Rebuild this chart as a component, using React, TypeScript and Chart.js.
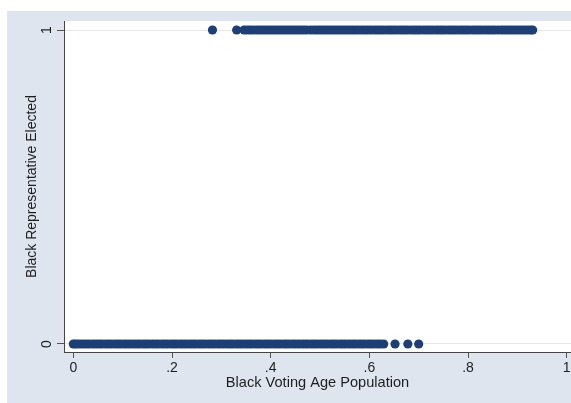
import React, { useEffect, useRef } from "react";
import { Chart, registerables } from "chart.js";

Chart.register(...registerables);

// Black voting age population share of districts where no Black representative was elected (y = 0)
const notElectedBVAP: number[] = [
  0, 0.004, 0.009, 0.015, 0.021, 0.027, 0.033, 0.04, 0.046, 0.052, 0.058, 0.065, 0.071, 0.077,
  0.084, 0.09, 0.096, 0.103, 0.109, 0.115, 0.122, 0.128, 0.134, 0.141, 0.147, 0.153, 0.16,
  0.166, 0.172, 0.179, 0.185, 0.191, 0.198, 0.204, 0.21, 0.217, 0.223, 0.229, 0.236, 0.242,
  0.248, 0.255, 0.261, 0.267, 0.274, 0.28, 0.286, 0.293, 0.299, 0.305, 0.312, 0.318, 0.324,
  0.331, 0.337, 0.343, 0.35, 0.356, 0.362, 0.369, 0.375, 0.381, 0.388, 0.394, 0.4, 0.407,
  0.413, 0.419, 0.426, 0.432, 0.438, 0.445, 0.451, 0.457, 0.464, 0.47, 0.476, 0.483, 0.489,
  0.495, 0.502, 0.508, 0.514, 0.521, 0.527, 0.533, 0.54, 0.546, 0.552, 0.559, 0.565, 0.571,
  0.578, 0.584, 0.59, 0.597, 0.603, 0.609, 0.616, 0.622, 0.629, 0.652, 0.678, 0.7,
];

// Black voting age population share of districts where a Black representative was elected (y = 1)
const electedBVAP: number[] = [
  0.282, 0.331, 0.346, 0.352, 0.358, 0.364, 0.371, 0.377, 0.383, 0.389, 0.395, 0.401, 0.407,
  0.413, 0.419, 0.425, 0.431, 0.437, 0.443, 0.449, 0.455, 0.461, 0.467, 0.473, 0.481, 0.488,
  0.494, 0.5, 0.506, 0.512, 0.518, 0.524, 0.53, 0.536, 0.542, 0.548, 0.554, 0.56, 0.566,
  0.572, 0.578, 0.585, 0.591, 0.597, 0.603, 0.61, 0.616, 0.622, 0.628, 0.635, 0.641, 0.647,
  0.653, 0.66, 0.666, 0.672, 0.678, 0.685, 0.691, 0.697, 0.703, 0.71, 0.716, 0.722, 0.728,
  0.735, 0.741, 0.747, 0.753, 0.76, 0.766, 0.772, 0.778, 0.785, 0.791, 0.797, 0.803, 0.81,
  0.816, 0.822, 0.828, 0.835, 0.841, 0.847, 0.853, 0.86, 0.867, 0.873, 0.879, 0.885, 0.891,
  0.897, 0.903, 0.909, 0.915, 0.921, 0.927, 0.931,
];

const xTickValues: number[] = [0, 0.2, 0.4, 0.6, 0.8, 1];
const xTickLabels: string[] = ["0", ".2", ".4", ".6", ".8", "1"];
const yTickValues: number[] = [0, 1];
const yTickLabels: string[] = ["0", "1"];

const xTitle = "Black Voting Age Population";
const yTitle = "Black Representative Elected";

const BG = "#dfe5ef";
const NAVY = "#1e3f75";
const TEXT = "#1e1e1e";
const FONT = "'Liberation Sans', Arial, sans-serif";

export default function App() {
  const ref = useRef<HTMLCanvasElement | null>(null);

  useEffect(() => {
    if (!ref.current) return;
    const bgPlugin = {
      id: "stataBg",
      beforeDraw(chart: any) {
        const { ctx, chartArea } = chart;
        ctx.save();
        ctx.fillStyle = "#ffffff";
        ctx.fillRect(0, 0, chart.width, chart.height);
        ctx.fillStyle = BG;
        ctx.fillRect(7, 11, chart.width - 7, chart.height - 11);
        ctx.fillStyle = "#ffffff";
        ctx.fillRect(chartArea.left, chartArea.top, chartArea.right - chartArea.left, chartArea.bottom - chartArea.top);
        ctx.restore();
      },
      afterDraw(chart: any) {
        const { ctx } = chart;
        const y = chart.scales.y;
        ctx.save();
        ctx.fillStyle = TEXT;
        ctx.font = `14px ${FONT}`;
        ctx.textAlign = "center";
        ctx.textBaseline = "middle";
        yTickValues.forEach((v, i) => {
          const py = y.getPixelForValue(v);
          ctx.save();
          ctx.translate(47, py);
          ctx.rotate(-Math.PI / 2);
          ctx.fillText(yTickLabels[i], 0, 0);
          ctx.restore();
        });
        ctx.restore();
      },
    };

    const chart = new Chart(ref.current, {
      type: "scatter",
      data: {
        datasets: [
          {
            label: "Not elected",
            data: notElectedBVAP.map((x) => ({ x, y: 0 })),
            backgroundColor: NAVY,
            borderWidth: 0,
            pointRadius: 4.6,
          },
          {
            label: "Elected",
            data: electedBVAP.map((x) => ({ x, y: 1 })),
            backgroundColor: NAVY,
            borderWidth: 0,
            pointRadius: 4.6,
          },
        ],
      },
      options: {
        animation: false,
        responsive: false,
        layout: { autoPadding: false, padding: { top: 21, left: 0, right: 0, bottom: 0 } },
        plugins: { legend: { display: false }, tooltip: { enabled: false } },
        scales: {
          x: {
            type: "linear",
            min: -0.0189,
            max: 1.0087,
            afterBuildTicks: (s: any) => {
              s.ticks = xTickValues.map((value) => ({ value }));
            },
            afterFit: (s: any) => {
              s.height = 51;
              s.paddingLeft = 0;
              s.paddingRight = 0;
            },
            ticks: {
              autoSkip: false,
              maxRotation: 0,
              minRotation: 0,
              padding: 2,
              color: TEXT,
              font: { family: FONT, size: 14 },
              callback: (v: any) => {
                const i = xTickValues.findIndex((t) => Math.abs(t - Number(v)) < 1e-9);
                return i >= 0 ? xTickLabels[i] : "";
              },
            },
            grid: { drawOnChartArea: false, drawTicks: true, tickLength: 6, tickColor: "#555555" },
            border: { display: true, color: "#444444", width: 1 },
            title: {
              display: true,
              text: xTitle,
              color: TEXT,
              font: { family: FONT, size: 14.6 },
              padding: { top: 0, bottom: 11.3 },
            },
          },
          y: {
            type: "linear",
            min: -0.0255,
            max: 1.0287,
            afterBuildTicks: (s: any) => {
              s.ticks = yTickValues.map((value) => ({ value }));
            },
            afterFit: (s: any) => {
              s.width = 64;
              s.paddingTop = 0;
              s.paddingBottom = 0;
            },
            ticks: { display: false },
            grid: { drawOnChartArea: true, color: "#e6e6e6", drawTicks: true, tickLength: 7, tickColor: "#555555" },
            border: { display: true, color: "#444444", width: 1 },
            title: {
              display: true,
              text: yTitle,
              color: TEXT,
              font: { family: FONT, size: 14 },
              padding: { top: 23.6, bottom: 0 },
            },
          },
        },
      },
      plugins: [bgPlugin],
    });
    return () => chart.destroy();
  }, []);

  return (
    <div style={{ position: "fixed", left: 0, top: 0, width: 571, height: 403 }}>
      <canvas ref={ref} width={571} height={403} style={{ display: "block" }} />
    </div>
  );
}
